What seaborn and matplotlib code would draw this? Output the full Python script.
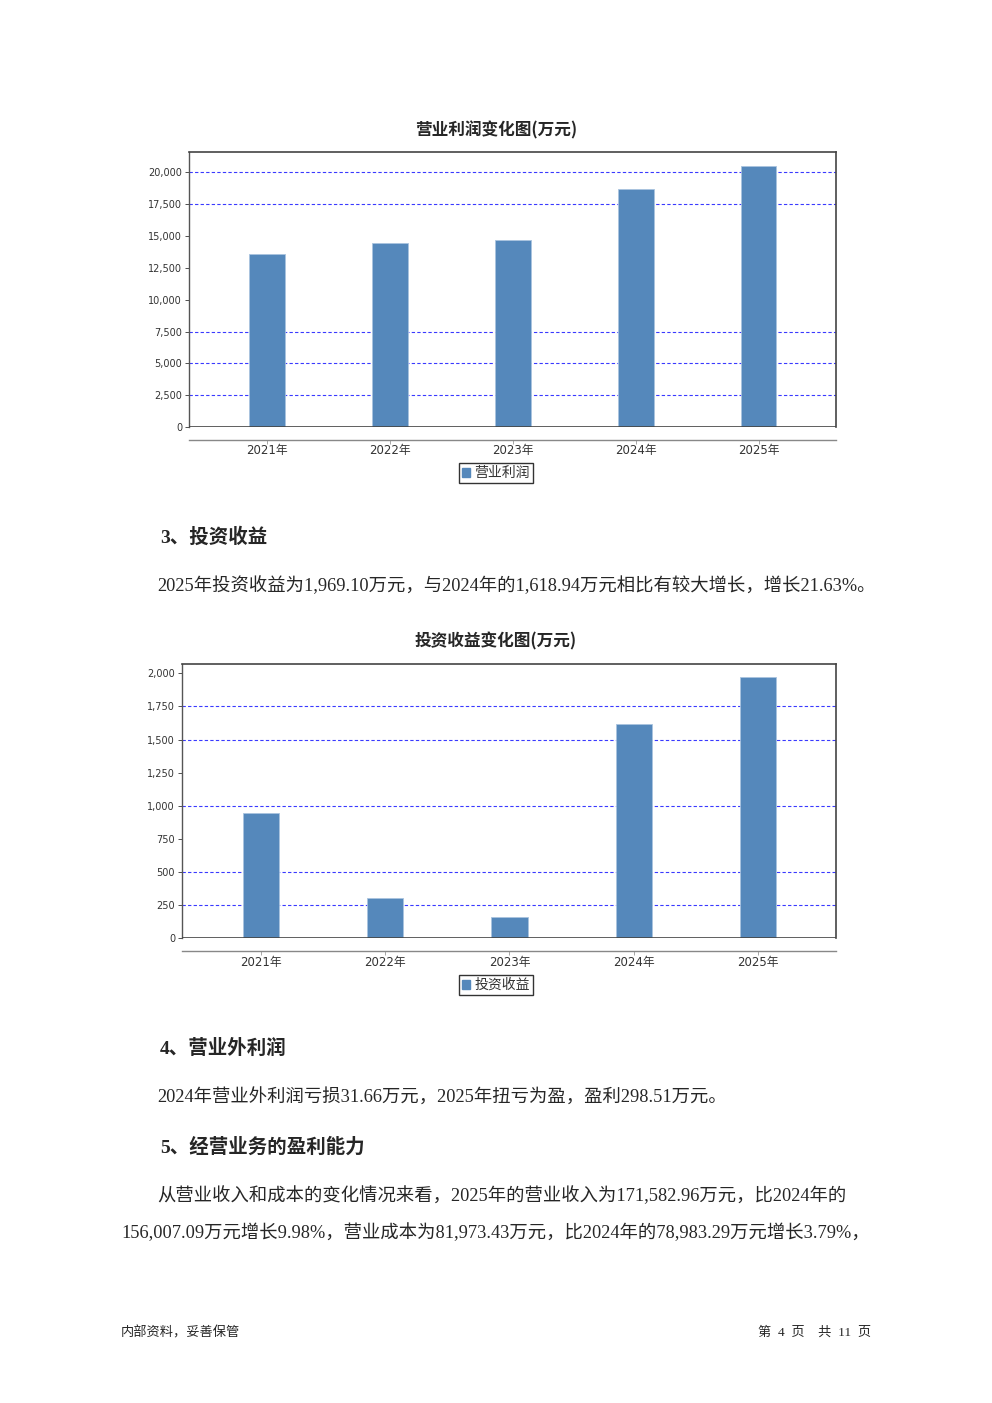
import matplotlib
matplotlib.use('Agg')
import matplotlib.pyplot as plt
import seaborn as sns
from matplotlib.patches import Patch
from matplotlib.ticker import StrMethodFormatter

# 数据
years = ['2021年', '2022年', '2023年', '2024年', '2025年']
op_profit = [13590, 14480, 14710, 18700, 20500]      # 营业利润
invest_income = [948, 302, 161, 1618.94, 1969.10]    # 投资收益
ticks1 = [0, 2500, 5000, 7500, 10000, 12500, 15000, 17500, 20000]
grid1 = [2500, 5000, 7500, 17500, 20000]
ticks2 = [0, 250, 500, 750, 1000, 1250, 1500, 1750, 2000]
grid2 = [250, 500, 1000, 1500, 1750]

sns.set_theme(style='white')
plt.rcParams['font.family'] = ['DejaVu Sans', 'Noto Sans CJK SC']

W, H = 992, 1403
fig = plt.figure(figsize=(W / 100, H / 100), dpi=100)
BAR = '#5588bb'
CJK = ['Noto Sans CJK SC', 'DejaVu Sans']
SERIF = ['Liberation Serif', 'Noto Sans CJK SC']


def box(x0, y0, x1, y1):
    return [x0 / W, 1 - y1 / H, (x1 - x0) / W, (y1 - y0) / H]


def draw_chart(rect, values, ticks, grid, ymax, xlim, title, title_y, label, leg_y):
    ax = fig.add_axes(rect)
    sns.barplot(x=years, y=values, ax=ax, color=BAR, width=0.29,
                edgecolor='#a9c3df', linewidth=0.6, saturation=1, zorder=3)
    for g in grid:
        ax.axhline(g, color='#3a3aff', lw=0.8, ls=(0, (3, 2)), zorder=1)
    ax.set_xlim(*xlim)
    ax.set_ylim(0, ymax)
    ax.set_yticks(ticks)
    ax.yaxis.set_major_formatter(StrMethodFormatter('{x:,.0f}'))
    ax.set_xlabel('')
    ax.set_ylabel('')
    ax.tick_params(axis='y', direction='out', length=3, width=0.6, pad=2,
                   labelsize=7, colors='#333333', left=True)
    ax.tick_params(axis='x', direction='out', length=3, width=0.6, pad=0.5,
                   labelsize=8.5, labelcolor='#333333', color='#999999', bottom=True)
    for s in ['top', 'right']:
        ax.spines[s].set_color('#444444')
        ax.spines[s].set_linewidth(1.2)
    ax.spines['left'].set_color('#555555')
    ax.spines['left'].set_linewidth(1.0)
    ax.spines['bottom'].set_position(('outward', 9))
    ax.spines['bottom'].set_color('#888888')
    ax.spines['bottom'].set_linewidth(1.0)
    ax.axhline(0, color='#444444', lw=1.2, zorder=4)
    fig.text(0.5, 1 - title_y / H, title, ha='center', va='center',
             fontsize=12, fontweight='bold', family=CJK)
    leg = ax.legend(handles=[Patch(color=BAR, label=label)], loc='center',
                    bbox_to_anchor=(496 / W, 1 - leg_y / H), bbox_transform=fig.transFigure,
                    fontsize=10, frameon=True, fancybox=False, edgecolor='black',
                    borderpad=0.25, handlelength=0.6, handleheight=0.6,
                    handletextpad=0.3, borderaxespad=0)
    leg.get_frame().set_linewidth(1.0)
    for t in leg.get_texts():
        t.set_color('#333333')
    return ax


draw_chart(box(189, 152, 836, 427), op_profit, ticks1, grid1, 21600,
           (-0.635, 4.63), '营业利润变化图(万元)', 130, '营业利润', 473)
draw_chart(box(182, 664, 836, 938.3), invest_income, ticks2, grid2, 2070,
           (-0.636, 4.628), '投资收益变化图(万元)', 641, '投资收益', 985)


def line(x, y, s, size=13.2, bold=False, ha='left'):
    fig.text(x / W, 1 - y / H, s, ha=ha, va='center', fontsize=size,
             fontweight='bold' if bold else 'normal', family=SERIF)


line(160, 537, '3、投资收益', 14, True)
line(157, 586, '2025年投资收益为1,969.10万元，与2024年的1,618.94万元相比有较大增长，增长21.63%。')
line(160, 1048, '4、营业外利润', 14, True)
line(157, 1098, '2024年营业外利润亏损31.66万元，2025年扭亏为盈，盈利298.51万元。')
line(160, 1147, '5、经营业务的盈利能力', 14, True)
line(157, 1196, '从营业收入和成本的变化情况来看，2025年的营业收入为171,582.96万元，比2024年的')
line(121, 1233, '156,007.09万元增长9.98%，营业成本为81,973.43万元，比2024年的78,983.29万元增长3.79%，')

line(121, 1333, '内部资料，妥善保管', 9.5)
line(871, 1333, '第  4  页    共  11  页', 9.5, ha='right')

fig.savefig('out.png', dpi=100)
